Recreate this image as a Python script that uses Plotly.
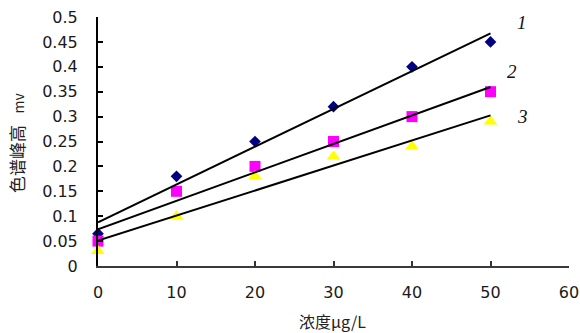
import numpy as np
import plotly.graph_objects as go

# ---- data ----
conc = [0, 10, 20, 30, 40, 50]
series1 = [0.065, 0.18, 0.25, 0.32, 0.40, 0.45]
series2 = [0.05, 0.15, 0.20, 0.25, 0.30, 0.35]
series3 = [0.03, 0.10, 0.18, 0.22, 0.24, 0.29]
curve_labels = ["1", "2", "3"]
x_ticks = [0, 10, 20, 30, 40, 50, 60]
y_ticks = [0, 0.05, 0.1, 0.15, 0.2, 0.25, 0.3, 0.35, 0.4, 0.45, 0.5]
y_tick_text = ["0", "0.05", "0.1", "0.15", "0.2", "0.25", "0.3", "0.35", "0.4", "0.45", "0.5"]
x_title = "浓度μg/L"
y_title = "色谱峰高"
y_unit = "mv"

all_series = [series1, series2, series3]
marker_styles = [
    dict(symbol="diamond", color="#000080", size=9),
    dict(symbol="square", color="#FF00FF", size=11),
    dict(symbol="triangle-up", color="#FFFF00", size=12),
]

fig = go.Figure()

for ys, ms in zip(all_series, marker_styles):
    fig.add_trace(go.Scatter(
        x=conc, y=ys, mode="markers",
        marker=dict(symbol=ms["symbol"], color=ms["color"], size=ms["size"], line=dict(width=0)),
        cliponaxis=False, hoverinfo="skip",
    ))

# linear trendlines (least squares fit of each series, drawn over data range)
for ys in all_series:
    slope, intercept = np.polyfit(conc, ys, 1)
    xs = [conc[0], conc[-1]]
    fig.add_trace(go.Scatter(
        x=xs, y=[slope * v + intercept for v in xs], mode="lines",
        line=dict(color="black", width=2), cliponaxis=False, hoverinfo="skip",
    ))

label_pos = [(54.0, 0.488), (52.7, 0.39), (54.1, 0.30)]
for txt, (lx, ly) in zip(curve_labels, label_pos):
    fig.add_annotation(
        x=lx, y=ly, xref="x", yref="y", text=f"<i>{txt}</i>", showarrow=False,
        font=dict(family="Liberation Serif", size=19, color="#111"),
    )

fig.add_annotation(
    x=0.497, y=-0.222, xref="paper", yref="paper", text=x_title, showarrow=False,
    font=dict(family="Noto Sans CJK SC", size=16, color="#222"),
    xanchor="center", yanchor="middle",
)
fig.add_annotation(
    x=-0.172, y=0.494, xref="paper", yref="paper",
    text=y_title + "\u00a0\u00a0\u00a0<span style='font-size:14px'>" + y_unit + "</span>",
    textangle=-90, showarrow=False,
    font=dict(family="Noto Sans CJK SC", size=17, color="#222"),
    xanchor="center", yanchor="middle",
)

tick_font = dict(family="DejaVu Sans", size=16, color="#1a1a1a")

fig.update_layout(
    width=580, height=333,
    margin=dict(l=98, r=11, t=17, b=67, autoexpand=False),
    paper_bgcolor="white", plot_bgcolor="white",
    showlegend=False,
    xaxis=dict(
        range=[0, 60], tickvals=x_ticks, ticks="inside", ticklen=5, tickwidth=1.5,
        tickcolor="#333", showline=True, linecolor="#3a3a3a", linewidth=2,
        showgrid=False, zeroline=False, tickfont=tick_font, ticklabelstandoff=11,
        automargin=False, ticklabeloverflow="allow",
    ),
    yaxis=dict(
        range=[0, 0.5], tickvals=y_ticks, ticktext=y_tick_text, ticks="inside",
        ticklen=5, tickwidth=1.5, tickcolor="black", showline=True, linecolor="black",
        linewidth=2, showgrid=False, zeroline=False, tickfont=tick_font,
        ticklabelstandoff=15, automargin=False, ticklabeloverflow="allow",
    ),
)

# remove the default page margin so the figure sits at the window's top-left corner
fig.write_html(
    "out.html",
    config={"displayModeBar": False},
    post_script="document.body.style.margin='0';",
)
